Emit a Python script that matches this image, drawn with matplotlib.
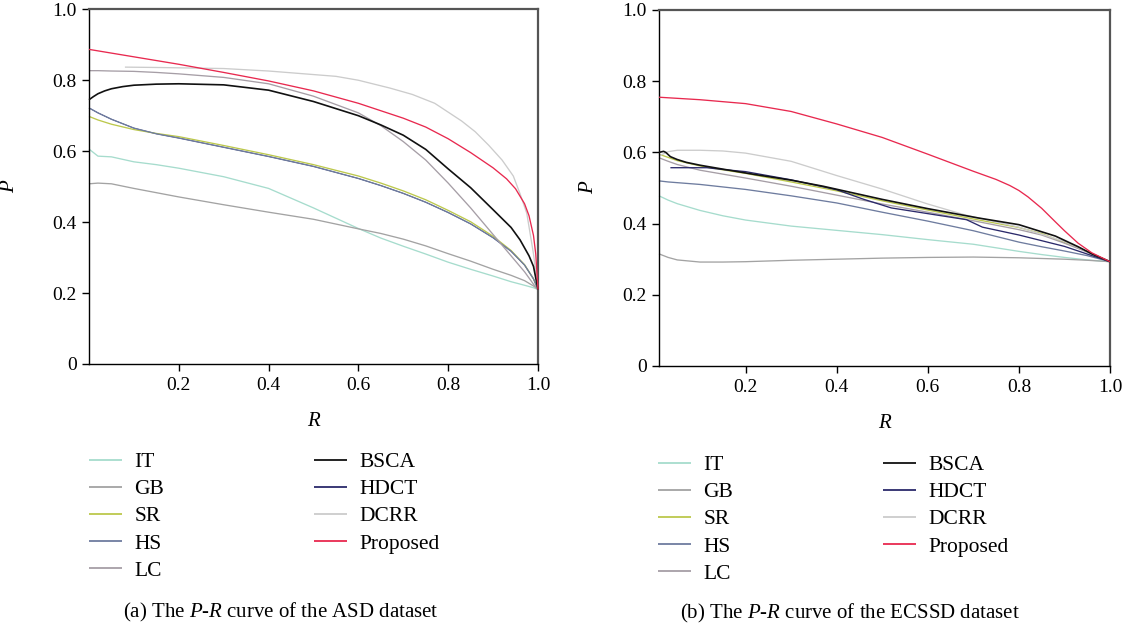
import matplotlib
matplotlib.use("Agg")
import matplotlib.pyplot as plt

plt.rcParams['font.family'] = ['Liberation Serif', 'DejaVu Serif']
plt.rcParams['mathtext.fontset'] = 'custom'
plt.rcParams['mathtext.rm'] = 'Liberation Serif'
plt.rcParams['mathtext.it'] = 'Liberation Serif:italic'

names = ['IT', 'GB', 'SR', 'HS', 'LC', 'BSCA', 'HDCT', 'DCRR', 'Proposed']
colors = ['#a6dccd', '#a3a3a3', '#bcc84c', '#6e7c9f', '#a69ea6',
          '#111111', '#2b2a6b', '#cccccc', '#e8294f']

# ---- ASD dataset (left) ----
asd_r = [0, 0.02, 0.05, 0.1, 0.15, 0.2, 0.3, 0.4, 0.5, 0.6, 0.65, 0.7,
         0.75, 0.8, 0.85, 0.9, 0.94, 0.97, 0.99, 1.0]
asd_it = [0.606, 0.586, 0.584, 0.57, 0.562, 0.552, 0.528, 0.495, 0.44, 0.382,
          0.355, 0.332, 0.31, 0.287, 0.267, 0.248, 0.232, 0.222, 0.215, 0.21]
asd_gb = [0.508, 0.51, 0.508, 0.495, 0.483, 0.471, 0.449, 0.428, 0.408, 0.381,
          0.368, 0.352, 0.333, 0.311, 0.29, 0.267, 0.25, 0.235, 0.22, 0.21]
asd_sr = [0.698, 0.688, 0.676, 0.661, 0.65, 0.641, 0.616, 0.59, 0.562, 0.53,
          0.51, 0.488, 0.463, 0.433, 0.401, 0.36, 0.32, 0.28, 0.24, 0.21]
asd_hs = [0.722, 0.708, 0.69, 0.665, 0.649, 0.637, 0.611, 0.585, 0.557, 0.523,
          0.503, 0.481, 0.456, 0.427, 0.395, 0.356, 0.318, 0.279, 0.24, 0.21]
asd_lc = [0.827, 0.827, 0.826, 0.825, 0.822, 0.818, 0.808, 0.79, 0.755, 0.708,
          0.672, 0.627, 0.575, 0.51, 0.44, 0.365, 0.305, 0.26, 0.225, 0.21]
asd_bsca_r = [0, 0.01, 0.02, 0.035, 0.05, 0.075, 0.1, 0.15, 0.2, 0.3, 0.4,
              0.5, 0.6, 0.65, 0.7, 0.75, 0.8, 0.85, 0.9, 0.94, 0.96, 0.98,
              0.99, 1.0]
asd_bsca = [0.745, 0.754, 0.762, 0.77, 0.776, 0.782, 0.786, 0.789, 0.79,
            0.787, 0.772, 0.74, 0.70, 0.674, 0.645, 0.605, 0.55, 0.497, 0.435,
            0.385, 0.35, 0.305, 0.275, 0.21]
asd_hdct = asd_hs  # hidden under HS in the ASD panel
asd_dcrr_r = [0.08, 0.15, 0.2, 0.3, 0.4, 0.5, 0.55, 0.6, 0.67, 0.72, 0.77,
              0.83, 0.86, 0.89, 0.92, 0.945, 0.96, 0.975, 0.99, 1.0]
asd_dcrr = [0.837, 0.836, 0.835, 0.833, 0.826, 0.816, 0.811, 0.80, 0.778,
            0.76, 0.735, 0.685, 0.655, 0.617, 0.575, 0.53, 0.48, 0.425, 0.31,
            0.21]
asd_prop_r = [0, 0.1, 0.2, 0.3, 0.4, 0.5, 0.6, 0.7, 0.75, 0.8, 0.85, 0.9,
              0.93, 0.95, 0.97, 0.98, 0.99, 0.995, 1.0]
asd_prop = [0.887, 0.866, 0.845, 0.822, 0.798, 0.77, 0.735, 0.693, 0.668,
            0.635, 0.596, 0.553, 0.522, 0.494, 0.452, 0.418, 0.362, 0.31, 0.21]

# ---- ECSSD dataset (right) ----
ec_r = [0.01, 0.03, 0.05, 0.1, 0.15, 0.2, 0.3, 0.4, 0.5, 0.6, 0.7, 0.8,
        0.85, 0.9, 0.95, 1.0]
ec_it = [0.478, 0.466, 0.456, 0.437, 0.422, 0.41, 0.393, 0.381, 0.369, 0.355,
         0.342, 0.322, 0.313, 0.305, 0.298, 0.293]
ec_gb = [0.315, 0.305, 0.298, 0.292, 0.292, 0.293, 0.297, 0.300, 0.303, 0.305,
         0.306, 0.304, 0.302, 0.30, 0.297, 0.293]
ec_sr = [0.595, 0.586, 0.577, 0.562, 0.551, 0.541, 0.517, 0.492, 0.464, 0.438,
         0.413, 0.389, 0.372, 0.347, 0.322, 0.293]
ec_hs = [0.52, 0.517, 0.515, 0.51, 0.503, 0.496, 0.478, 0.458, 0.432, 0.407,
         0.38, 0.348, 0.335, 0.323, 0.31, 0.293]
ec_lc = [0.585, 0.575, 0.566, 0.55, 0.539, 0.528, 0.505, 0.48, 0.455, 0.432,
         0.408, 0.383, 0.368, 0.345, 0.32, 0.293]
ec_bsca_r = [0.01, 0.02, 0.025, 0.035, 0.05, 0.07, 0.1, 0.15, 0.22, 0.3, 0.37,
             0.5, 0.6, 0.71, 0.8, 0.88, 0.93, 0.96, 1.0]
ec_bsca = [0.60, 0.603, 0.60, 0.588, 0.58, 0.572, 0.564, 0.553, 0.538, 0.522,
           0.505, 0.468, 0.442, 0.416, 0.397, 0.365, 0.335, 0.315, 0.293]
ec_hdct_r = [0.035, 0.115, 0.15, 0.2, 0.3, 0.4, 0.46, 0.52, 0.6, 0.685, 0.72,
             0.8, 0.9, 1.0]
ec_hdct = [0.557, 0.557, 0.552, 0.546, 0.523, 0.495, 0.468, 0.444, 0.428,
           0.411, 0.39, 0.368, 0.336, 0.293]
ec_dcrr_r = [0.01, 0.03, 0.05, 0.1, 0.15, 0.2, 0.3, 0.4, 0.5, 0.6, 0.68, 0.8,
             0.9, 1.0]
ec_dcrr = [0.59, 0.602, 0.606, 0.606, 0.604, 0.598, 0.575, 0.535, 0.497, 0.455,
           0.425, 0.39, 0.35, 0.293]
ec_prop_r = [0.01, 0.1, 0.2, 0.3, 0.4, 0.5, 0.6, 0.7, 0.75, 0.78, 0.8, 0.82,
             0.85, 0.88, 0.9, 0.93, 0.96, 1.0]
ec_prop = [0.755, 0.748, 0.737, 0.715, 0.68, 0.642, 0.595, 0.547, 0.524,
           0.507, 0.493, 0.475, 0.443, 0.405, 0.38, 0.345, 0.318, 0.293]

asd_series = [(asd_r, asd_it), (asd_r, asd_gb), (asd_r, asd_sr), (asd_r, asd_hs),
              (asd_r, asd_lc), (asd_bsca_r, asd_bsca), (asd_r, asd_hdct),
              (asd_dcrr_r, asd_dcrr), (asd_prop_r, asd_prop)]
ec_series = [(ec_r, ec_it), (ec_r, ec_gb), (ec_r, ec_sr), (ec_r, ec_hs),
             (ec_r, ec_lc), (ec_bsca_r, ec_bsca), (ec_hdct_r, ec_hdct),
             (ec_dcrr_r, ec_dcrr), (ec_prop_r, ec_prop)]

W, H = 1131, 628
fig = plt.figure(figsize=(W / 100, H / 100), dpi=100)


def px_axes(x0, y0, x1, y1):
    return fig.add_axes([x0 / W, 1 - y1 / H, (x1 - x0) / W, (y1 - y0) / H])


def style(ax, xmin):
    ax.set_xlim(xmin, 1.0)
    ax.set_ylim(0, 1.0)
    ax.set_xticks([0.2, 0.4, 0.6, 0.8, 1.0])
    ax.set_xticklabels(['0.2', '0.4', '0.6', '0.8', '1.0'])
    ax.set_yticks([0, 0.2, 0.4, 0.6, 0.8, 1.0])
    ax.set_yticklabels(['0', '0.2', '0.4', '0.6', '0.8', '1.0'])
    ax.tick_params(direction='out', length=5, width=1, labelsize=14, pad=4,
                   top=False, right=False)
    for s in ['left', 'bottom']:
        ax.spines[s].set_color('black')
        ax.spines[s].set_linewidth(1.0)
    for s in ['top', 'right']:
        ax.spines[s].set_color('#555555')
        ax.spines[s].set_linewidth(1.6)
    ax.set_xlabel('R', fontstyle='italic', fontsize=15)
    ax.set_ylabel('P', fontstyle='italic', fontsize=15)


ax1 = px_axes(89, 9.3, 538, 364)
ax2 = px_axes(659, 10, 1110, 366)

for ax, series, xmin in [(ax1, asd_series, 0), (ax2, ec_series, 0.01)]:
    for i, (r, p) in enumerate(series):
        lw = 1.2 if names[i] == 'BSCA' else 0.95
        z = 2
        if names[i] == 'HDCT' and ax is ax1:
            z = 1.5
            lw = 0.6
        if names[i] in ('BSCA', 'Proposed'):
            z = 3
        ax.plot(r, p, color=colors[i], lw=lw, label=names[i], zorder=z,
                solid_capstyle='butt', clip_on=False)
    style(ax, xmin)

ax1.xaxis.set_label_coords(0.5, -0.135)
ax2.xaxis.set_label_coords(0.5, -0.135)
ax1.yaxis.set_label_coords(-0.155, 0.5)
ax2.yaxis.set_label_coords(-0.135, 0.5)

leg_kw = dict(loc='upper left', frameon=False, fontsize=15.5, borderpad=0,
              borderaxespad=0, handlelength=1.55, handletextpad=0.55,
              labelspacing=0.33)

for ax, cols, top in [(ax1, (89, 314), 452), (ax2, (658, 883), 455)]:
    hs = ax.lines
    l1 = fig.legend(hs[:5], names[:5], bbox_to_anchor=(cols[0] / W, 1 - top / H),
                    **leg_kw)
    l2 = fig.legend(hs[5:], names[5:], bbox_to_anchor=(cols[1] / W, 1 - top / H),
                    **leg_kw)
    for lg in (l1, l2):
        for h in lg.legend_handles:
            h.set_linewidth(1.3)

fig.text(281 / W, 1 - 612 / H, '(a) The $P$-$R$ curve of the ASD dataset',
         ha='center', va='center', fontsize=15)
fig.text(850 / W, 1 - 613 / H, '(b) The $P$-$R$ curve of the ECSSD dataset',
         ha='center', va='center', fontsize=15)

fig.savefig('out.png', dpi=100)
